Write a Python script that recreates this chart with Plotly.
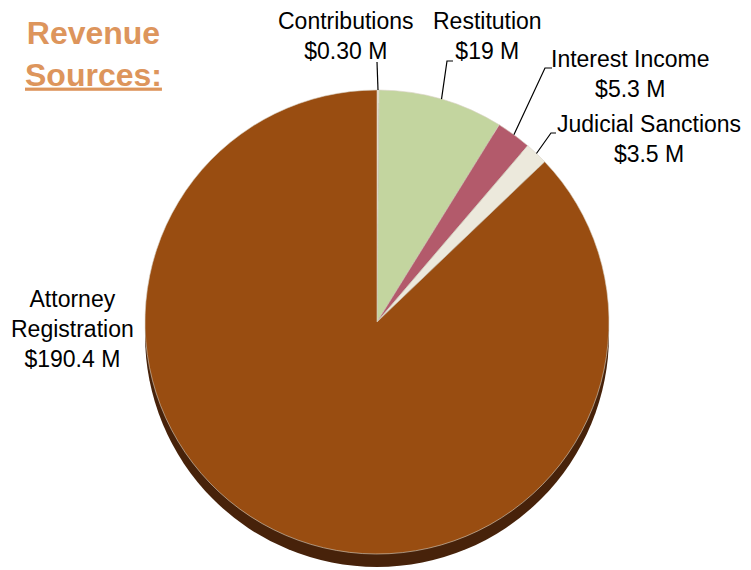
import math
import plotly.graph_objects as go

# ---- data ----
categories = ["Contributions", "Restitution", "Interest Income", "Judicial Sanctions", "Attorney<br>Registration"]
values = [0.30, 19, 5.3, 3.5, 190.4]
value_labels = ["$0.30 M", "$19 M", "$5.3 M", "$3.5 M", "$190.4 M"]
colors = ["#E9E6D2", "#C3D59F", "#B35A6B", "#ECE9DC", "#994D11"]

OFF = 8                         # page body margin offset
W, H = 751 - OFF, 570 - OFF
cx, cy, r = 377, 322, 232      # pie centre / radius in screen pixels
depth = 13                      # 3D edge thickness

def px(x):
    return (x - OFF) / W

def py(y):
    return 1 - (y - OFF) / H

def dom(cx_, cy_):
    return dict(x=[px(cx_ - r), px(cx_ + r)], y=[py(cy_ + r), py(cy_ - r)])

fig = go.Figure()

# shadow / depth disk
fig.add_trace(go.Pie(
    values=[sum(values)], labels=["edge"], marker=dict(colors=["#47220A"], line=dict(width=0)),
    textinfo="none", hoverinfo="skip", sort=False, showlegend=False,
    domain=dom(cx, cy + depth),
))

# top face
fig.add_trace(go.Pie(
    values=values, labels=categories,
    marker=dict(colors=colors, line=dict(color="#D8D2C4", width=0.6)),
    textinfo="none", hoverinfo="label+value", sort=False, direction="clockwise",
    rotation=0, showlegend=False, domain=dom(cx, cy),
))

# label positions (layout) : centre x, centre y, leader elbow (x, y), tick length
label_pos = [
    (346, 36, (377, 62), 0),
    (487, 36, (447, 61), 6),
    (630, 74, (545, 68), 7),
    (649, 139, (551, 133), 5),
    (72, 329, None, 0),
]

total = sum(values)
cum = 0
annotations = []
shapes = []
for name, v, vl, (lx, ly, elbow, tick) in zip(categories, values, value_labels, label_pos):
    mid = (cum + v / 2) / total * 2 * math.pi
    cum += v
    annotations.append(dict(
        x=px(lx), y=py(ly), xref="paper", yref="paper", xanchor="center", yanchor="middle",
        text=f"{name}<br>{vl}", showarrow=False, align="center",
        font=dict(family="Liberation Sans, Arial, sans-serif", size=23, color="#000000"),
    ))
    if elbow is not None:
        sx = cx + r * math.sin(mid)
        sy = cy - r * math.cos(mid)
        path = f"M {px(sx)} {py(sy)} L {px(elbow[0])} {py(elbow[1])}"
        if tick:
            path += f" L {px(elbow[0] + tick)} {py(elbow[1])}"
        shapes.append(dict(type="path", xref="paper", yref="paper", path=path,
                           line=dict(color="#000000", width=1.2)))

annotations.append(dict(
    x=px(93), y=py(54), xref="paper", yref="paper", xanchor="center", yanchor="middle",
    text="<b>Revenue</b><br><b><u>Sources:</u></b>", showarrow=False, align="center",
    font=dict(family="Liberation Sans, Arial, sans-serif", size=32, color="#DD955C"),
))

fig.update_layout(
    width=W, height=H, margin=dict(l=0, r=0, t=0, b=0),
    paper_bgcolor="#FFFFFF", plot_bgcolor="#FFFFFF",
    annotations=annotations, shapes=shapes,
)

fig.write_html("out.html")
